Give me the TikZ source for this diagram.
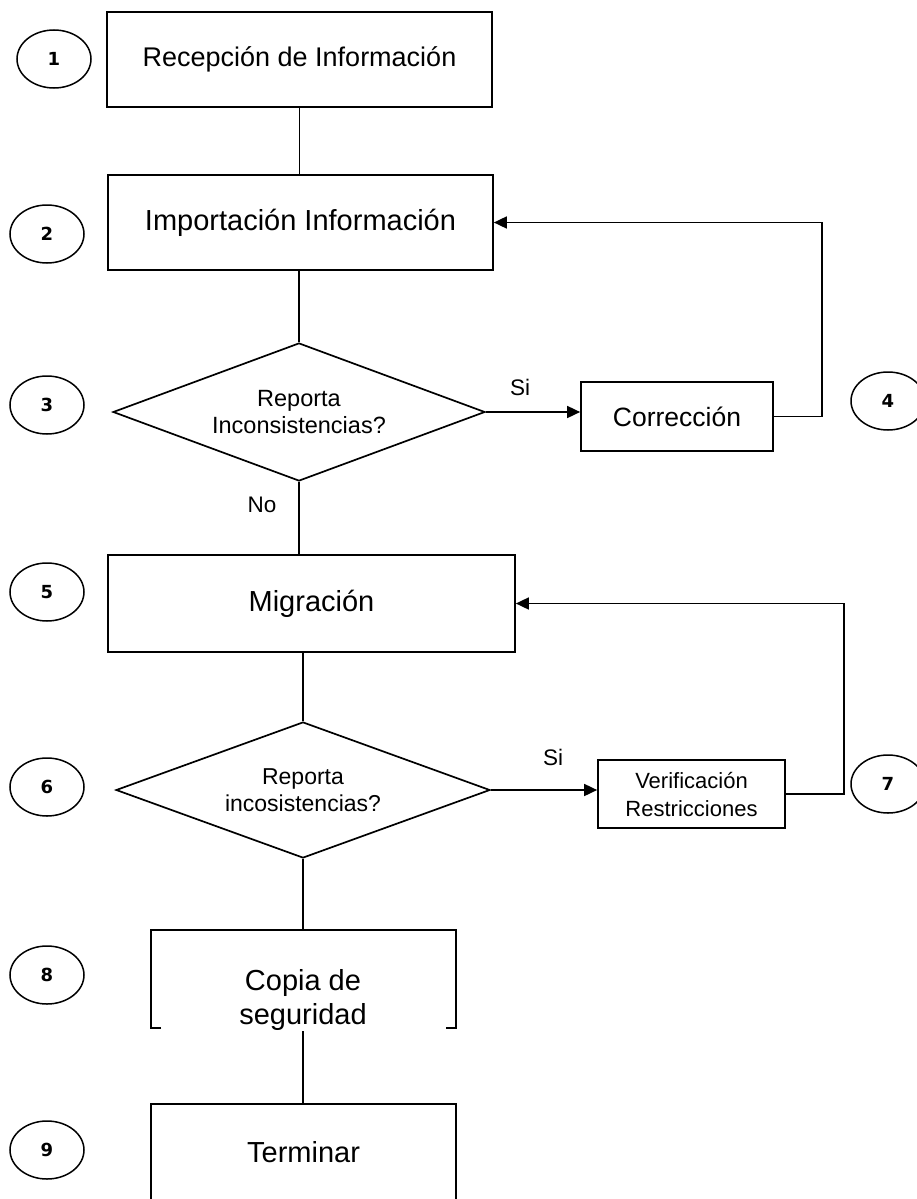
\documentclass[tikz,border=0pt]{standalone}
\usepackage{fontspec}
\setmainfont{Liberation Sans}
\newfontfamily\numfont{DejaVu Sans}
\usetikzlibrary{shapes.geometric,arrows.meta}
\begin{document}
\begin{tikzpicture}[x=1pt,y=-1pt,
  line width=1.7pt,
  box/.style={draw, rectangle, inner sep=0pt, align=center},
  numc/.style={draw, ellipse, minimum width=74pt, minimum height=58pt, inner sep=0pt, font=\numfont\bfseries\fontsize{18}{20}\selectfont, line width=1.5pt},
  dec/.style={draw, diamond, aspect=2.7, inner sep=0pt, align=center},
  arr/.style={-{Triangle[length=13pt,width=12pt]}},
  lbl/.style={font=\fontsize{22.5}{26}\selectfont, inner sep=0pt},
  big/.style={font=\fontsize{29}{34}\selectfont}
]
\useasboundingbox (0,0) rectangle (917,1199);

% process boxes
\node[box, minimum width=385pt, minimum height=95pt, font=\fontsize{27}{30}\selectfont] (b1) at (299.5,59.5) {Recepción de Información};
\node[box, minimum width=385pt, minimum height=95pt, big] (b2) at (300.5,222.5) {Importación Información};
\node[dec, minimum width=372pt, minimum height=138pt, font=\fontsize{23.5}{27}\selectfont] (d3) at (299,412) {Reporta\\Inconsistencias?};
\node[box, minimum width=192pt, minimum height=69pt, font=\fontsize{26.5}{30}\selectfont] (corr) at (677,416.5) {Corrección};
\node[box, minimum width=407pt, minimum height=97pt, big] (mig) at (311.5,603.5) {Migración};
\node[dec, minimum width=374pt, minimum height=136pt, font=\fontsize{23}{27}\selectfont] (d6) at (303,790) {Reporta\\incosistencias?};
\node[box, minimum width=187pt, minimum height=68pt, font=\fontsize{22}{28}\selectfont] (ver) at (691.5,794) {Verificación\\Restricciones};
\node[rectangle, inner sep=0pt, minimum width=303pt, minimum height=96pt] (cb) at (303.5,979) {};
\node[inner sep=0pt, big, align=center] (copiat) at (303,1000) {Copia de\\seguridad};
\node[rectangle, inner sep=0pt, minimum width=303pt, minimum height=94pt, big] (term) at (303.5,1152) {Terminar};

% connectors
\draw (b1.south) -- (b1.south |- b2.north);
\draw (d3.north |- b2.south) -- (d3.north);
\draw[arr] (d3.east) -- (d3.east -| corr.west);
\draw[arr] (corr.east) -- ++(48,0) |- (b2.east);
\draw (d3.south) -- (d3.south |- mig.north);
\draw (d6.north |- mig.south) -- (d6.north);
\draw[arr] (d6.east) -- (d6.east -| ver.west);
\draw[arr] (ver.east) -- ++(58,0) |- (mig.east);
\draw (d6.south) -- (d6.south |- cb.north);
\draw ([xshift=10pt]cb.south west) -- (cb.south west) -- (cb.north west) -- (cb.north east) -- (cb.south east) -- ([xshift=-10pt]cb.south east);
\draw (copiat.south) -- (copiat.south |- term.north);
\draw (term.south west) -- (term.north west) -- (term.north east) -- (term.south east);

% labels
\node[lbl] (si1) at (520,387) {Si};
\node[lbl] (no) at (262,505) {No};
\node[lbl] (si2) at (553,757) {Si};

% step numbers
\node[numc] (n1) at (54,59) {1};
\node[numc] (n2) at (47,234) {2};
\node[numc] (n3) at (47,405) {3};
\node[numc] (n4) at (888,401) {4};
\node[numc] (n5) at (47,592) {5};
\node[numc] (n6) at (47,787) {6};
\node[numc] (n7) at (888,784) {7};
\node[numc] (n8) at (47,975) {8};
\node[numc] (n9) at (47,1150) {9};
\end{tikzpicture}
\end{document}
